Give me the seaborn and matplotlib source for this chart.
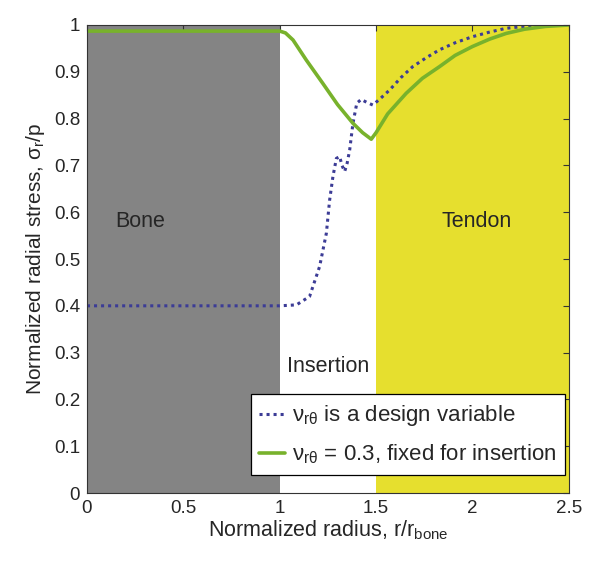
import numpy as np
import pandas as pd
import matplotlib
matplotlib.use("Agg")
import matplotlib.pyplot as plt
import seaborn as sns

# values
design_r = [0.0, 0.5, 1.0, 1.087, 1.155, 1.207, 1.242, 1.259, 1.276, 1.294, 1.311,
            1.323, 1.337, 1.350, 1.363, 1.38, 1.40, 1.423, 1.45, 1.483, 1.52,
            1.57, 1.63, 1.69, 1.76, 1.829, 1.91, 2.0, 2.09, 2.175, 2.27, 2.38, 2.5]
design_s = [0.4, 0.4, 0.4, 0.402, 0.42, 0.484, 0.555, 0.626, 0.676, 0.715, 0.719,
            0.700, 0.687, 0.705, 0.733, 0.79, 0.833, 0.841, 0.835, 0.829, 0.842,
            0.861, 0.888, 0.911, 0.930, 0.947, 0.962, 0.975, 0.985, 0.993, 0.997, 0.999, 1.0]

fixed_r = [0.0, 0.5, 1.0, 1.03, 1.069, 1.138, 1.224, 1.30, 1.38, 1.43, 1.475,
           1.50, 1.56, 1.656, 1.74, 1.829, 1.91, 2.0, 2.09, 2.175, 2.27, 2.38, 2.5]
fixed_s = [0.987, 0.987, 0.987, 0.983, 0.968, 0.925, 0.875, 0.83, 0.79, 0.77, 0.756,
           0.77, 0.81, 0.854, 0.886, 0.911, 0.935, 0.954, 0.970, 0.982, 0.991, 0.997, 1.0]

regions = ["Bone", "Insertion", "Tendon"]
region_edges = [0.0, 1.0, 1.5, 2.5]

sns.set_style("white")
plt.rcParams["font.family"] = ["Liberation Sans", "DejaVu Sans"]
plt.rcParams["mathtext.default"] = "regular"

fig = plt.figure(figsize=(6.0, 5.63), dpi=100)
ax = fig.add_axes([0.145, 0.1243, 0.803, 0.8313])

# shaded zones
ax.axvspan(region_edges[0], region_edges[1], color="#848484", lw=0, zorder=0)
ax.axvspan(region_edges[2], region_edges[3], color="#e6df2e", lw=0, zorder=0)

sns.lineplot(x=design_r, y=design_s, ax=ax, color="#3c3c96", lw=2.2,
             linestyle=(0, (1, 1.3)), sort=False, estimator=None,
             label=r"$\nu_{r\theta}$ is a design variable")
sns.lineplot(x=fixed_r, y=fixed_s, ax=ax, color="#78b22c", lw=2.6,
             sort=False, estimator=None,
             label=r"$\nu_{r\theta}$ = 0.3, fixed for insertion")

ax.text(0.275, 0.58, regions[0], fontsize=15.5, ha="center", va="center")
ax.text(1.25, 0.27, regions[1], fontsize=15.5, ha="center", va="center")
ax.text(2.02, 0.58, regions[2], fontsize=15.5, ha="center", va="center")

ax.set_xlim(0, 2.5)
ax.set_ylim(0, 1)
ax.set_xticks([0, 0.5, 1, 1.5, 2, 2.5])
ax.set_xticklabels(["0", "0.5", "1", "1.5", "2", "2.5"])
ax.set_yticks(np.arange(0, 1.01, 0.1))
ax.set_yticklabels(["0"] + [f"{v:.1f}" for v in np.arange(0.1, 0.95, 0.1)] + ["1"])
ax.tick_params(direction="in", top=True, right=True, length=4, width=0.8,
               labelsize=13.5, color="#333333", pad=5)
for s in ax.spines.values():
    s.set_color("#333333")
    s.set_linewidth(0.8)

ax.set_xlabel(r"Normalized radius, r/r$_{bone}$", fontsize=15.5, labelpad=1)
ax.set_ylabel(r"Normalized radial stress, $\sigma_r$/p", fontsize=15, labelpad=5)

leg = ax.legend(loc="lower right", bbox_to_anchor=(0.992, 0.038), borderaxespad=0,
                fontsize=16, frameon=True, fancybox=False,
                handlelength=1.15, handletextpad=0.3, borderpad=0.4,
                labelspacing=0.65, facecolor="white", edgecolor="black",
                framealpha=1)
leg.get_frame().set_linewidth(0.9)

fig.savefig("out.png", dpi=100)
